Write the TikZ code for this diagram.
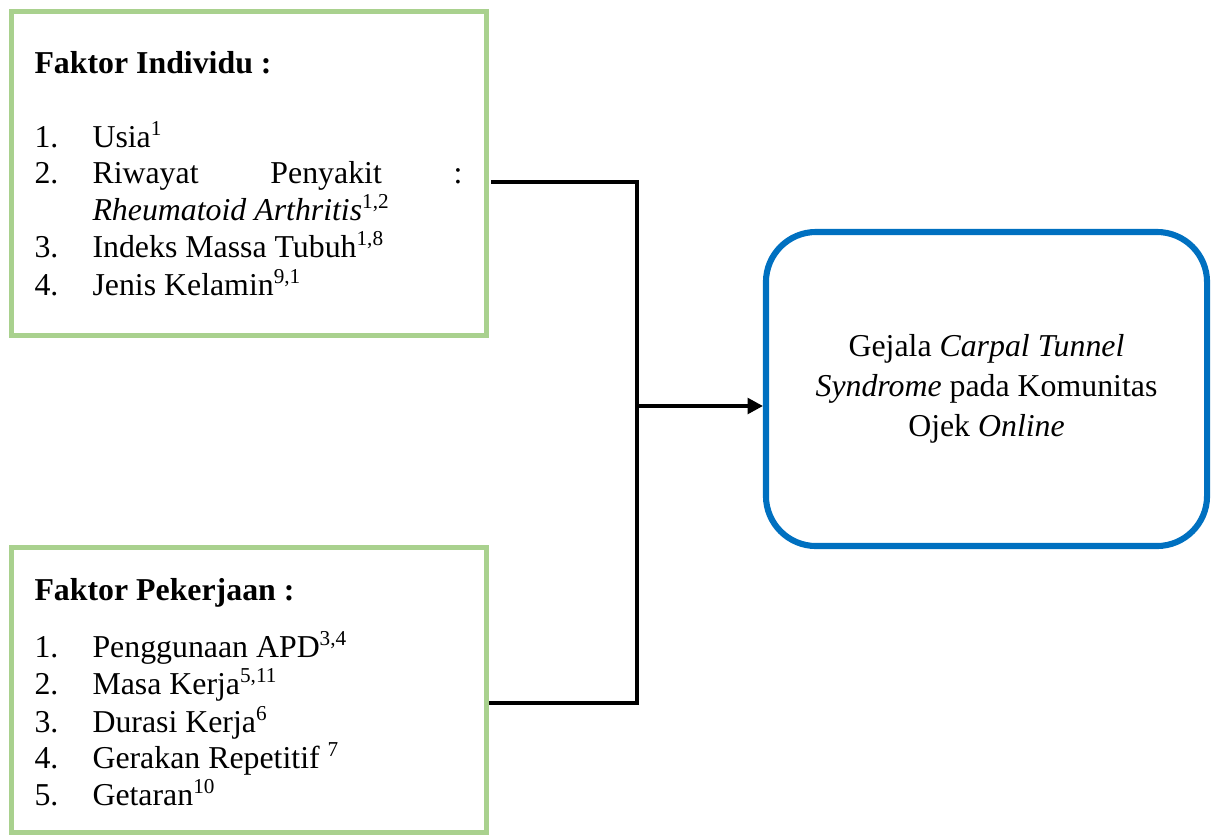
\documentclass[tikz,border=0pt]{standalone}
\usepackage{fontspec}
\setmainfont{Liberation Serif}
\usepackage{xcolor}
\usetikzlibrary{arrows.meta}
\definecolor{boxgreen}{HTML}{A9D18E}
\definecolor{boxblue}{HTML}{0070C0}

\begin{document}
\begin{tikzpicture}[x=0.377pt,y=-0.377pt,
	faktor/.style={draw=boxgreen,line width=1.9pt,minimum width=179.1pt,inner sep=0pt},
	gejala/.style={draw=boxblue,line width=2.3pt,rounded corners=18.9pt,minimum width=166.3pt,minimum height=118.4pt,align=center,inner sep=0pt,font=\fontsize{12}{15.1}\selectfont},
	teks/.style={anchor=base west,inner sep=0pt,font=\fontsize{12}{14}\selectfont},
	link/.style={line width=1.15pt}]
	\useasboundingbox (0,0) rectangle (1211,835);
	
	% kotak faktor dan gejala
	\node[faktor,minimum height=122.5pt] (individu) at (249,173.5) {};
	\node[faktor,minimum height=107.1pt] (pekerjaan) at (249,690) {};
	\node[gejala] (cts) at (986.5,389) {Gejala \textit{Carpal Tunnel}\\\textit{Syndrome} pada Komunitas\\Ojek \textit{Online}};
	
	% faktor individu
	\node[teks] (judul1) at (34,73) {\textbf{Faktor Individu :}};
	\foreach \n/\y in {1/147,2/183,3/257,4/295}{
		\node[teks] (nomorA\n) at (34,\y) {\n.};
	}
	\node[teks] (usia) at (92,147) {Usia\textsuperscript{1}};
	\node[teks] (riwayat) at (92,183) {\makebox[139.5pt][s]{Riwayat\hfill Penyakit\hfill :}};
	\node[teks] (rheuma) at (92,220) {\textit{Rheumatoid Arthritis}\textsuperscript{1,2}};
	\node[teks] (imt) at (92,257) {Indeks Massa Tubuh\textsuperscript{1,8}};
	\node[teks] (kelamin) at (92,295) {Jenis Kelamin\textsuperscript{9,1}};
	
	% faktor pekerjaan
	\node[teks] (judul2) at (34,600) {\textbf{Faktor Pekerjaan :}};
	\foreach \n/\y in {1/657,2/694,3/732,4/768,5/805}{
		\node[teks] (nomorB\n) at (34,\y) {\n.};
	}
	\node[teks] (apd) at (92,657) {Penggunaan APD\textsuperscript{3,4}};
	\node[teks] (masa) at (92,694) {Masa Kerja\textsuperscript{5,11}};
	\node[teks] (durasi) at (92,732) {Durasi Kerja\textsuperscript{6}};
	\node[teks] (gerak) at (92,768) {Gerakan Repetitif \textsuperscript{7}};
	\node[teks] (getar) at (92,805) {Getaran\textsuperscript{10}};
	
	% garis penghubung
	\coordinate (atas) at (637,182);
	\coordinate (bawah) at (637,703);
	\coordinate (tengah) at (637,406);
	\draw[link,shorten <=0.9pt] (individu.east |- atas) -- (atas) -- (bawah) -- (pekerjaan.east |- bawah);
	\draw[link,-{Triangle[length=5.8pt,width=6pt]}] (tengah) -- (tengah -| cts.west);
	
\end{tikzpicture}
\end{document}
